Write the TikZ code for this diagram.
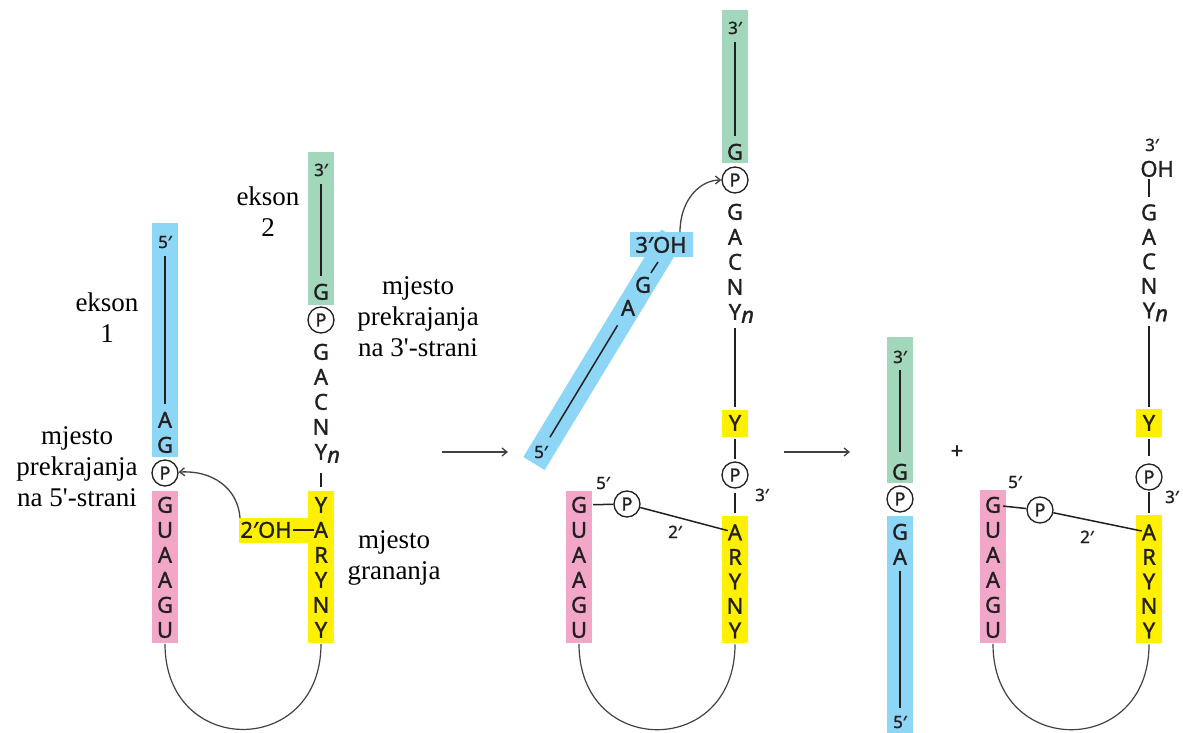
\documentclass[tikz,border=0pt]{standalone}
\usepackage{fontspec}
\setmainfont{Liberation Serif}
\newfontfamily\seqfam[FakeBold=1.2]{Noto Sans}
\usetikzlibrary{arrows.meta}
\definecolor{ink}{RGB}{35,31,32}
\definecolor{exonA}{RGB}{142,214,246}
\definecolor{exonB}{RGB}{162,215,187}
\definecolor{intron}{RGB}{243,167,200}
\definecolor{branch}{RGB}{255,240,0}
\newcommand{\seqsize}{\seqfam\fontsize{22}{25}\selectfont}
\newcommand{\tipsize}{\seqfam\fontsize{17}{20}\selectfont}
\newcommand{\psize}{\seqfam\fontsize{18}{20}\selectfont}
\newcommand{\labsize}{\rmfamily\fontsize{27}{31}\selectfont}
\newcommand{\Yn}{Y\rlap{\raisebox{-3pt}{\itshape n}}}

\begin{document}
\begin{tikzpicture}[x=1pt, y=-1pt,
  nt/.style={font=\seqsize, text=ink, inner sep=0pt, text height=15.5pt, text depth=0pt},
  ends/.style={font=\tipsize, text=ink, inner sep=0pt, text height=12pt, text depth=0pt},
  phos/.style={circle, draw=ink, line width=1.3pt, minimum size=26pt, inner sep=0pt, font=\psize, text=ink},
  bond/.style={draw=ink, line width=1.5pt, shorten <=8pt, shorten >=8pt},
  loopline/.style={draw=ink!85, line width=1.2pt, shorten <=6pt, shorten >=6pt},
  turn/.style={draw=ink!85, line width=1.3pt, -{Straight Barb[length=5pt,width=8pt]}},
  lab/.style={font=\labsize, align=center, inner sep=0pt}]
  \useasboundingbox (0,0) rectangle (1183,733);

  % panel 1: branch point attacks the 5' splice site
  \fill[exonA] (152,223) rectangle (178,457);
  \fill[intron] (152,491) rectangle (178,643);
  \fill[exonB] (308,152) rectangle (334,305);
  \fill[branch] (308,491) rectangle (334,643);
  \fill[branch] (239,518) rectangle (320,543);

  \node[ends] (n1five) at (165,242) {5′};
  \node[nt] (n1a) at (165,420) {A};
  \node[nt] (n1g) at (165,445) {G};
  \node[phos] (p1a) at (165,473) {P};
  \foreach \l [count=\i] in {G,U,A,A,G,U}
    \node[nt] (n1u\i) at (165,{480+25*\i}) {\l};
  \node[ends] (n1three) at (321,170) {3′};
  \node[nt] (n1e) at (321,292) {G};
  \node[phos] (p1b) at (321,320) {P};
  \foreach \l [count=\i] in {G,A,C,N,\Yn}
    \node[nt] (n1s\i) at (321,{327+25*\i}) {\l};
  \foreach \l [count=\i] in {Y,A,R,Y,N,Y}
    \node[nt] (n1y\i) at (321,{480+25*\i}) {\l};
  \node[nt] (n1oh) at (266,530) {2′OH};
  \coordinate (n1tail) at (240,518);

  \draw[bond] (n1five) -- (n1a);
  \draw[bond] (n1three) -- (n1e);
  \draw[bond, shorten <=13pt, shorten >=10pt] (n1s5) -- (n1y1);
  \draw[bond, shorten <=1pt, shorten >=0pt] (n1oh) -- (n1y2);
  \draw[loopline] (n1u6.south) .. controls +(0,120) and +(0,120) .. (n1y6.south);
  \draw[turn] (n1tail) .. controls (238,488) and (212,470) .. (p1a);

  \node[lab] (ek1) at (107,318) {ekson\\1};
  \node[lab] (ek2) at (268,212) {ekson\\2};
  \node[lab] (site5) at (77,467) {mjesto\\prekrajanja\\na 5\textquotesingle-strani};
  \node[lab] (site3) at (418,317) {mjesto\\prekrajanja\\na 3\textquotesingle-strani};
  \node[lab] (branchsite) at (394,558) {mjesto\\grananja};

  \coordinate (r1a) at (442,452);
  \coordinate (r1b) at (508,452);
  \draw[turn] (r1a) -- (r1b);

  % panel 2: lariat intermediate
  \fill[exonB] (722,10) rectangle (748,163);
  \fill[branch] (722,410) rectangle (748,437);
  \fill[branch] (722,516) rectangle (748,643);
  \fill[intron] (566,491) rectangle (592,643);
  \draw[exonA, line width=25pt] (534,463.5) -- (672,236);
  \fill[exonA] (630,232) rectangle (693,257);

  \node[ends] (n2three) at (735,28) {3′};
  \node[nt] (n2e) at (735,152) {G};
  \node[phos] (p2a) at (735,180) {P};
  \foreach \l [count=\i] in {G,A,C,N,\Yn}
    \node[nt] (n2s\i) at (735,{187+25*\i}) {\l};
  \node[nt] (n2br) at (735,423) {Y};
  \node[phos] (p2b) at (735,475) {P};
  \node[ends] (n2p3) at (762,495) {3′};
  \foreach \l [count=\i] in {A,R,Y,N,Y}
    \node[nt] (n2y\i) at (735,{508+24.5*\i}) {\l};
  \foreach \l [count=\i] in {G,U,A,A,G,U}
    \node[nt] (n2u\i) at (579,{480+25*\i}) {\l};
  \node[ends] (n2p5) at (603,483) {5′};
  \node[phos] (p2c) at (627,504) {P};
  \node[ends] (n2p2) at (675,532) {2′};
  \node[nt] (n2oh) at (661,245) {3′OH};
  \node[nt] (n2g) at (643,285) {G};
  \node[nt] (n2a) at (628,308) {A};
  \node[ends] (n2five) at (541,452) {5′};
  \coordinate (n2foot) at (658,262);
  \coordinate (n2tail) at (680,232);

  \draw[bond] (n2three) -- (n2e);
  \draw[bond] (n2s5) -- (n2br);
  \draw[bond, shorten >=2pt] (n2br) -- (p2b);
  \draw[bond, shorten <=4pt, shorten >=12pt] (p2b) -- (n2y1);
  \draw[bond, shorten <=6pt, shorten >=0pt] (n2u1) -- (p2c);
  \draw[bond, shorten <=0pt, shorten >=0pt] (p2c) -- (n2y1);
  \draw[bond, shorten <=0pt, shorten >=5pt] (n2foot) -- (n2g);
  \draw[bond, shorten <=11pt, shorten >=10pt] (n2a) -- (n2five);
  \draw[loopline] (n2u6.south) .. controls +(0,120) and +(0,120) .. (n2y5.south);
  \draw[turn] (n2tail) .. controls (680,200) and (700,180) .. (p2a);

  \coordinate (r2a) at (784,452);
  \coordinate (r2b) at (850,452);
  \draw[turn] (r2a) -- (r2b);

  % panel 3: joined exons
  \fill[exonB] (887,337) rectangle (913,483);
  \fill[exonA] (887,516) rectangle (913,733);
  \node[ends] (n3three) at (900,357) {3′};
  \node[nt] (n3e) at (900,472) {G};
  \node[phos] (p3) at (900,499) {P};
  \node[nt] (n3g) at (900,532) {G};
  \node[nt] (n3a) at (900,557) {A};
  \node[ends] (n3five) at (900,722) {5′};
  \draw[bond, shorten <=7pt, shorten >=12pt] (n3three) -- (n3e);
  \draw[bond, shorten <=6pt] (n3a) -- (n3five);
  \node[font=\seqsize, text=ink, inner sep=0pt] (plus) at (957,452) {+};

  % panel 4: released lariat
  \fill[branch] (1136,409) rectangle (1162,437);
  \fill[branch] (1136,515) rectangle (1162,643);
  \fill[intron] (980,490) rectangle (1006,643);
  \node[ends] (n4three) at (1152,145) {3′};
  \node[nt] (n4oh) at (1149,169) {O\rlap{H}};
  \foreach \l [count=\i] in {G,A,C,N,\Yn}
    \node[nt] (n4s\i) at (1149,{188+24.5*\i}) {\l};
  \node[nt] (n4br) at (1149,423) {Y};
  \node[phos] (p4b) at (1149,477) {P};
  \node[ends] (n4p3) at (1172,497) {3′};
  \foreach \l [count=\i] in {A,R,Y,N,Y}
    \node[nt] (n4y\i) at (1149,{508+24.5*\i}) {\l};
  \foreach \l [count=\i] in {G,U,A,A,G,U}
    \node[nt] (n4u\i) at (993,{480+25*\i}) {\l};
  \node[ends] (n4p5) at (1015,482) {5′};
  \node[phos] (p4c) at (1040,510) {P};
  \node[ends] (n4p2) at (1087,537) {2′};

  \draw[bond, shorten <=2pt, shorten >=8pt] (n4oh) -- (n4s1);
  \draw[bond] (n4s5) -- (n4br);
  \draw[bond, shorten >=7pt] (n4br) -- (p4b);
  \draw[bond, shorten <=1pt, shorten >=12pt] (p4b) -- (n4y1);
  \draw[bond, shorten <=2pt, shorten >=0pt] (n4u1) -- (p4c);
  \draw[bond, shorten <=0pt, shorten >=0pt] (p4c) -- (n4y1);
  \draw[loopline] (n4u6.south) .. controls +(0,120) and +(0,120) .. (n4y5.south);
\end{tikzpicture}
\end{document}
